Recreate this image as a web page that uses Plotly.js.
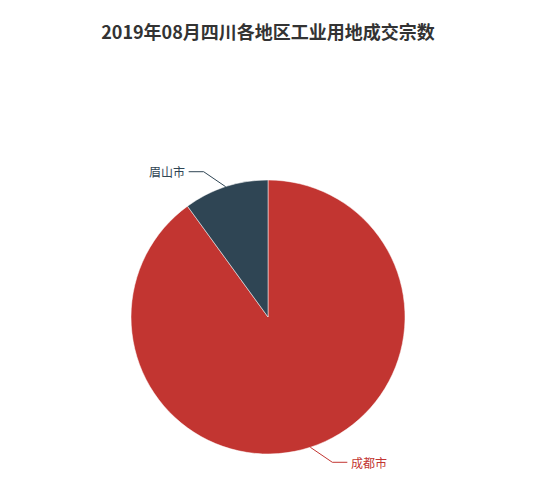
<!DOCTYPE html>
<html>
<head>
<meta charset="utf-8">
<script src="https://cdn.plot.ly/plotly-3.0.1.min.js"></script>
<style>html,body{margin:0;padding:0;background:#fff;}</style>
</head>
<body>
<div id="myDiv" style="width:550px;height:490px;"></div>
<script>
var regions = ['成都市', '眉山市'];
var counts = [9, 1];
var colors = ['#c23531', '#2f4554'];

var W = 550, H = 490,
    cx = 268, cy = 317, r = 137;

// leader lines + labels, ECharts style
var total = counts.reduce(function (a, b) { return a + b; }, 0),
    start = 0,
    shapes = [],
    notes = [];

for (var i = 0; i < counts.length; i++) {
    var mid = (start + counts[i] / 2) / total * 2 * Math.PI;
    start += counts[i];
    var sx = Math.sin(mid), sy = -Math.cos(mid);
    var side = sx >= 0 ? 1 : -1,
        vside = sy >= 0 ? 1 : -1;
    var x0 = cx + r * sx, y0 = cy + r * sy,
        x1 = x0 + side * 22, y1 = y0 + vside * 15,
        x2 = x1 + side * 15;
    shapes.push({
        type: 'path', xref: 'paper', yref: 'paper',
        path: 'M' + x0 / W + ',' + (1 - y0 / H) + ' L' + x1 / W + ',' + (1 - y1 / H) +
              ' L' + x2 / W + ',' + (1 - y1 / H),
        line: {color: colors[i], width: 1}
    });
    notes.push({
        xref: 'paper', yref: 'paper',
        x: (x2 + side * 2) / W, y: 1 - y1 / H,
        xanchor: side > 0 ? 'left' : 'right', yanchor: 'middle',
        text: regions[i], showarrow: false,
        font: {family: 'Noto Sans CJK SC', size: 12, color: colors[i]}
    });
}

var trace1 = {
  type: 'pie',
  labels: regions,
  values: counts,
  sort: false,
  direction: 'clockwise',
  rotation: 0,
  marker: {colors: colors, line: {color: 'rgba(255,255,255,0.5)', width: 1}},
  textinfo: 'none',
  hoverinfo: 'label+value+percent',
  domain: {x: [(cx - r) / W, (cx + r) / W], y: [1 - (cy + r) / H, 1 - (cy - r) / H]}
};

var layout = {
  width: W, height: H,
  margin: {l: 0, r: 0, t: 0, b: 0},
  showlegend: false,
  paper_bgcolor: '#fff',
  title: {
    text: '<b>2019年08月四川各地区工业用地成交宗数</b>',
    x: 268 / W, xanchor: 'center', y: 1 - 33 / H, yanchor: 'middle',
    font: {family: 'Noto Sans CJK SC', size: 18, color: '#333'}
  },
  shapes: shapes,
  annotations: notes
};

Plotly.newPlot('myDiv', [trace1], layout, {displayModeBar: false});
</script>
</body>
</html>
